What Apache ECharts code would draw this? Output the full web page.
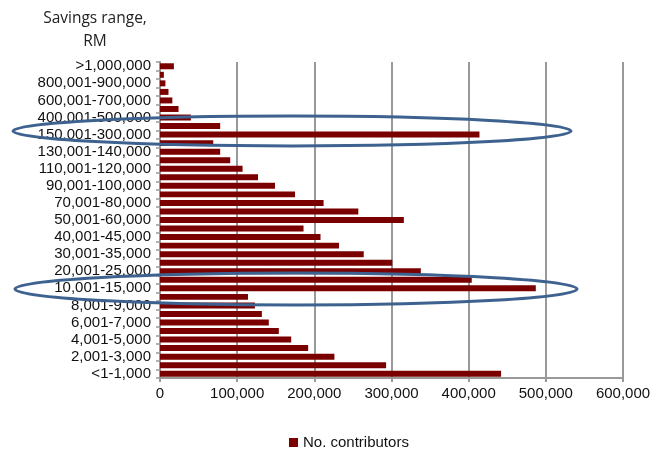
<!DOCTYPE html>
<html>
<head>
<meta charset="utf-8">
<script src="https://cdn.jsdelivr.net/npm/echarts@6/dist/echarts.min.js"></script>
<style>
  html, body { margin: 0; padding: 0; background: #fff; }
  #chart { width: 664px; height: 455px; }
</style>
</head>
<body>
<div id="chart"></div>
<script>
// savings ranges, top to bottom as drawn
var ranges = [
  '>1,000,000', '900,001-1,000,000', '800,001-900,000', '700,001-800,000',
  '600,001-700,000', '500,001-600,000', '400,001-500,000', '300,001-400,000',
  '150,001-300,000', '140,001-150,000', '130,001-140,000', '120,001-130,000',
  '110,001-120,000', '100,001-110,000', '90,001-100,000', '80,001-90,000',
  '70,001-80,000', '60,001-70,000', '50,001-60,000', '45,001-50,000',
  '40,001-45,000', '35,001-40,000', '30,001-35,000', '25,001-30,000',
  '20,001-25,000', '15,001-20,000', '10,001-15,000', '9,001-10,000',
  '8,001-9,000', '7,001-8,000', '6,001-7,000', '5,001-6,000',
  '4,001-5,000', '3,001-4,000', '2,001-3,000', '1,001-2,000', '<1-1,000'
];

// number of contributors per range
var contributors = [
  18000, 5000, 7000, 11000,
  16000, 24000, 40000, 78000,
  414000, 69000, 78000, 91000,
  107000, 127000, 149000, 175000,
  212000, 257000, 316000, 186000,
  208000, 232000, 264000, 301000,
  338000, 404000, 487000, 114000,
  123000, 132000, 141000, 154000,
  170000, 192000, 226000, 293000, 442000
];

var seriesName = 'No. contributors';

var myChart = echarts.init(document.getElementById('chart'));

var option = {
  backgroundColor: '#fff',
  animation: false,
  title: {
    text: 'Savings range,\nRM',
    left: 90,
    top: 2,
    textAlign: 'center',
    textStyle: {
      fontFamily: 'Open Sans',
      fontSize: 15.5,
      fontWeight: 'normal',
      color: '#222',
      lineHeight: 23
    }
  },
  legend: {
    bottom: 0,
    left: 284,
    icon: 'rect',
    itemWidth: 9,
    itemHeight: 9,
    itemGap: 5,
    textStyle: { fontFamily: 'Liberation Sans', fontSize: 15, color: '#111' },
    data: [seriesName]
  },
  grid: { left: 160, right: 41, top: 62, bottom: 77, containLabel: false },
  xAxis: {
    type: 'value',
    min: 0,
    max: 600000,
    interval: 100000,
    axisLine: { show: true, lineStyle: { color: '#999', width: 2 } },
    axisTick: { show: true, length: 4, lineStyle: { color: '#999', width: 2 } },
    splitLine: { show: true, lineStyle: { color: '#999', width: 2 } },
    axisLabel: {
      fontFamily: 'Liberation Sans',
      fontSize: 15,
      color: '#111',
      margin: 8,
      formatter: function (v) { return v.toLocaleString('en-US'); }
    }
  },
  yAxis: {
    type: 'category',
    inverse: true,
    data: ranges,
    axisLine: { show: true, lineStyle: { color: '#999', width: 2 } },
    axisTick: { show: true, length: 4, interval: 0, lineStyle: { color: '#999', width: 1.5 } },
    axisLabel: {
      interval: 1,
      fontFamily: 'Liberation Sans',
      fontSize: 15,
      color: '#111',
      margin: 9
    }
  },
  series: [{
    name: seriesName,
    type: 'bar',
    data: contributors,
    barCategoryGap: '30%',
    itemStyle: { color: '#7a0000' }
  }],
  graphic: [
    {
      type: 'ellipse',
      shape: { cx: 292, cy: 131, rx: 279, ry: 15 },
      style: { fill: 'none', stroke: '#3d628f', lineWidth: 3 },
      z: 100
    },
    {
      type: 'ellipse',
      shape: { cx: 296, cy: 289, rx: 281, ry: 16 },
      style: { fill: 'none', stroke: '#3d628f', lineWidth: 3 },
      z: 100
    }
  ]
};

myChart.setOption(option);
</script>
</body>
</html>
